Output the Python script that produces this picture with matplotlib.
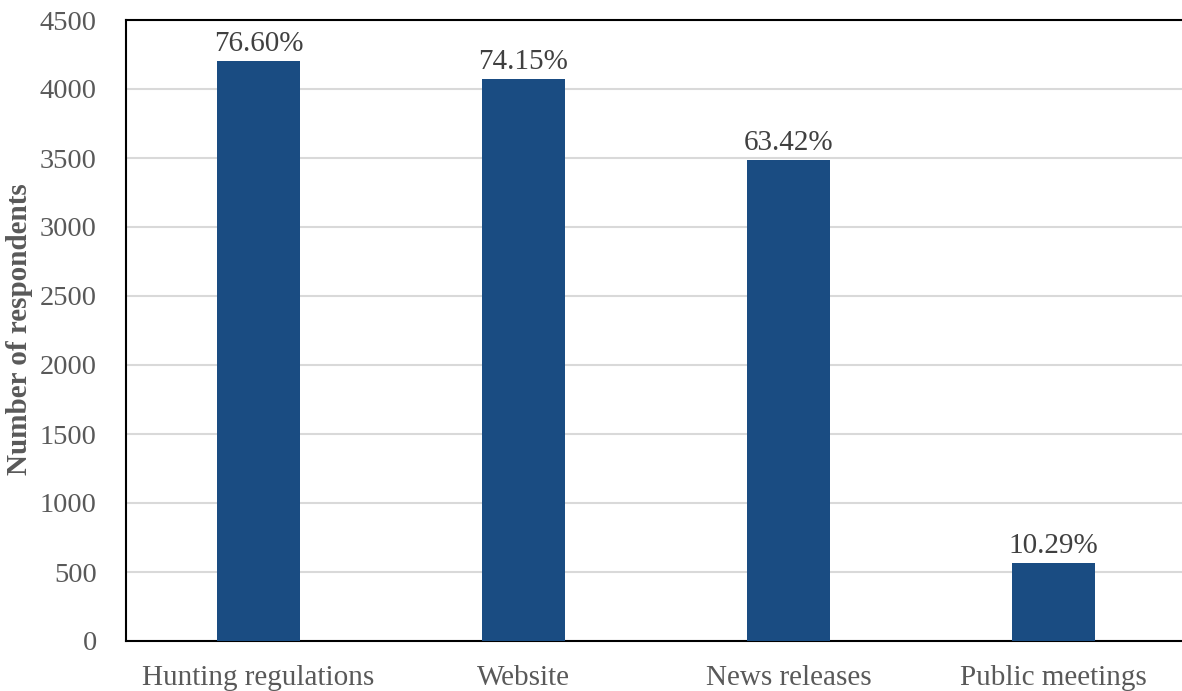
import matplotlib
matplotlib.use("Agg")
import matplotlib.pyplot as plt

categories = ["Hunting regulations", "Website", "News releases", "Public meetings"]
respondents = [4205, 4071, 3482, 565]
percent_labels = ["76.60%", "74.15%", "63.42%", "10.29%"]
yticks = [0, 500, 1000, 1500, 2000, 2500, 3000, 3500, 4000, 4500]

plt.rcParams['font.family'] = ['Liberation Serif', 'DejaVu Serif']
text_color = "#595959"

fig = plt.figure(figsize=(11.82, 6.91), dpi=100)
ax = fig.add_axes([126/1182, 1 - 641/691, (1186 - 126)/1182, (641 - 20)/691])

x = range(len(categories))
bars = ax.bar(x, respondents, width=0.31, color="#1a4c82", zorder=3)
for b, lab in zip(bars, percent_labels):
    ax.text(b.get_x() + b.get_width() / 2, b.get_height() + 30, lab,
            ha="center", va="bottom", fontsize=21, color="#404040")

ax.set_xlim(-0.5, 3.5)
ax.set_ylim(0, 4500)
ax.set_yticks(yticks)
ax.set_xticks(list(x))
ax.set_xticklabels(categories, fontsize=21)
ax.yaxis.grid(True, color="#d9d9d9", linewidth=1.5, zorder=0)
ax.set_axisbelow(True)
ax.tick_params(axis="both", length=0, colors=text_color)
ax.tick_params(axis="y", labelsize=20.5, pad=21)
ax.tick_params(axis="x", pad=17)
for s in ["top", "left", "bottom", "right"]:
    ax.spines[s].set_color("black")
    ax.spines[s].set_linewidth(1.5)
ax.set_ylabel("Number of respondents", fontsize=21, fontweight="bold",
              color=text_color)
ax.yaxis.set_label_coords(-0.0877, 0.502)

fig.savefig("out.png", dpi=100)
